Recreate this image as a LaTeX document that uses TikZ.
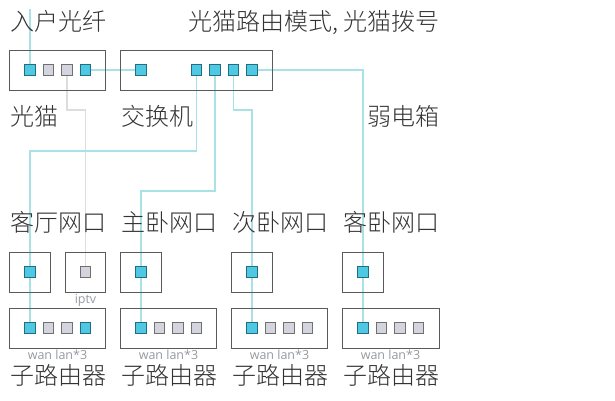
\documentclass[tikz,border=0pt]{standalone}
\usepackage{fontspec}
\usetikzlibrary{backgrounds}
\newfontfamily\cjk{Noto Sans CJK SC Light}
\newfontfamily\lat{Open Sans}
\definecolor{wirec}{HTML}{A8E2E6}
\definecolor{iptvc}{HTML}{DDDDDD}
\definecolor{boxc}{HTML}{5A5A5A}
\definecolor{onc}{HTML}{4FC8E4}
\definecolor{onb}{HTML}{1F6F80}
\definecolor{offc}{HTML}{D4D4DE}
\definecolor{offb}{HTML}{707070}
\definecolor{txtc}{HTML}{333333}
\definecolor{subc}{HTML}{959AA0}
\tikzset{
  devbox/.style={draw=boxc,line width=1pt,inner sep=0pt,minimum height=40pt},
  porton/.style={draw=onb,fill=onc,line width=1.1pt,minimum size=10.5pt,inner sep=0pt},
  portoff/.style={draw=offb,fill=offc,line width=1.1pt,minimum size=10.5pt,inner sep=0pt},
  wire/.style={draw=wirec,line width=1.5pt},
  greywire/.style={draw=iptvc,line width=1.5pt},
  lab/.style={font=\cjk\fontsize{24}{24}\selectfont,text=txtc,anchor=base west,inner sep=0pt},
  sublab/.style={font=\lat\fontsize{12.5}{13}\selectfont,text=subc,anchor=base,inner sep=0pt}
}
\begin{document}
\begin{tikzpicture}[x=1pt,y=-1pt]
\useasboundingbox (0,0) rectangle (615,400);
% device boxes
\node[devbox,minimum width=96pt]  (modem)  at (57.5,70) {};
\node[devbox,minimum width=151.5pt] (switch) at (196.25,70) {};
\node[devbox,minimum width=40.5pt] (roomA) at (29.75,272.2) {};
\node[devbox,minimum width=40.5pt] (roomB) at (85.25,272.2) {};
\node[devbox,minimum width=40.5pt] (roomC) at (140.75,272.2) {};
\node[devbox,minimum width=40.5pt] (roomD) at (251.8,272.2) {};
\node[devbox,minimum width=40.5pt] (roomE) at (362.8,272.2) {};
\node[devbox,minimum width=96pt] (subA) at (57.5,328) {};
\node[devbox,minimum width=96pt] (subB) at (168.5,328) {};
\node[devbox,minimum width=96pt] (subC) at (279.7,328) {};
\node[devbox,minimum width=96.5pt] (subD) at (390.8,328) {};
\coordinate (fiber) at (30,9);
% ports
\foreach \n/\x/\y in {m1/30/70,m4/85.5/70,
  w1/141/70,w2/196.5/70,w3/215/70,w4/233.5/70,w5/252/70,
  ka/30/272,kc/141/272,kd/252/272,ke/363/272,
  a1/30/328,a4/85.5/328,b1/141/328,c1/252/328,d1/363/328}
  \node[porton] (\n) at (\x,\y) {};
\foreach \n/\x/\y in {m2/48.5/70,m3/67/70,kb/85.5/272,
  a2/48.5/328,a3/67/328,
  b2/159.5/328,b3/178/328,b4/196.5/328,
  c2/270.5/328,c3/289/328,c4/307.5/328,
  d2/381.5/328,d3/400/328,d4/418.5/328}
  \node[portoff] (\n) at (\x,\y) {};
% wires, behind the ports
\begin{scope}[on background layer]
\draw[wire] (fiber) -- (m1.center);
\draw[wire] (m4.center) -- (w1.center);
\draw[greywire] (m3.center) -- (67,110) -| (kb.center);
\draw[wire] (w2.center) |- (30,151) -- (a1.center);
\draw[wire] (w3.center) |- (141,191) -- (b1.center);
\draw[wire] (w4.center) |- (252,110) -- (c1.center);
\draw[wire] (w5.center) -| (d1.center);
\end{scope}
% labels
\node[lab] (t1) at (10,30) {入户光纤};
\node[lab] (t2) at (188,30) {光猫路由模式, 光猫拨号};
\node[lab] (t3) at (10,125) {光猫};
\node[lab] (t4) at (121,125) {交换机};
\node[lab] (t5) at (367,125) {弱电箱};
\node[lab] (t6) at (10,231) {客厅网口};
\node[lab] (t7) at (121,231) {主卧网口};
\node[lab] (t8) at (232,231) {次卧网口};
\node[lab] (t9) at (343,231) {客卧网口};
\node[lab] (u1) at (10,384) {子路由器};
\node[lab] (u2) at (121,384) {子路由器};
\node[lab] (u3) at (232,384) {子路由器};
\node[lab] (u4) at (343,384) {子路由器};
\node[sublab] (ip) at (85.5,303) {iptv};
\node[sublab] (v1) at (57.5,359) {wan lan*3};
\node[sublab] (v2) at (168.5,359) {wan lan*3};
\node[sublab] (v3) at (279.5,359) {wan lan*3};
\node[sublab] (v4) at (390.5,359) {wan lan*3};
\end{tikzpicture}
\end{document}
